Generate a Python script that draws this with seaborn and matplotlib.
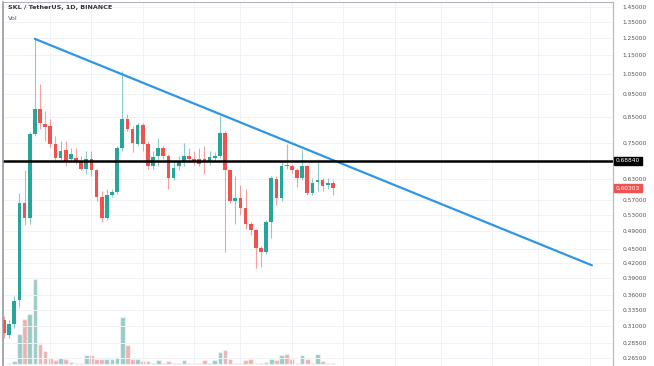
import numpy as np
import pandas as pd
import matplotlib
matplotlib.use("Agg")
import matplotlib.pyplot as plt
import seaborn as sns

# daily candles, SKL / USDT
opens = [0.318, 0.296, 0.312, 0.351, 0.560, 0.523, 0.785, 0.886, 0.824, 0.816,
         0.748, 0.699, 0.727, 0.696, 0.699, 0.683, 0.663, 0.693, 0.657, 0.577,
         0.521, 0.582, 0.591, 0.734, 0.844, 0.805, 0.748, 0.820, 0.748, 0.673,
         0.706, 0.731, 0.706, 0.632, 0.670, 0.683, 0.706, 0.696, 0.696, 0.696,
         0.683, 0.699, 0.706, 0.789, 0.657, 0.568, 0.574, 0.547, 0.506, 0.492,
         0.451, 0.442, 0.511, 0.629, 0.574, 0.676, 0.670, 0.660, 0.635, 0.670,
         0.588, 0.620, 0.626, 0.611, 0.617]
highs = [0.324, 0.318, 0.357, 0.588, 0.657, 0.790, 1.243, 1.000, 0.878, 0.844,
         0.778, 0.759, 0.759, 0.731, 0.731, 0.706, 0.723, 0.723, 0.663, 0.596,
         0.602, 0.602, 0.741, 1.065, 0.865, 0.816, 0.828, 0.828, 0.759, 0.723,
         0.770, 0.741, 0.713, 0.689, 0.706, 0.752, 0.731, 0.723, 0.731, 0.741,
         0.723, 0.717, 0.857, 0.797, 0.663, 0.641, 0.611, 0.602, 0.511, 0.496,
         0.455, 0.516, 0.641, 0.641, 0.689, 0.748, 0.679, 0.666, 0.727, 0.676,
         0.632, 0.696, 0.635, 0.632, 0.626]
lows = [0.292, 0.292, 0.306, 0.339, 0.504, 0.508, 0.778, 0.805, 0.759, 0.731,
        0.683, 0.689, 0.673, 0.683, 0.679, 0.657, 0.647, 0.641, 0.568, 0.511,
        0.516, 0.577, 0.585, 0.723, 0.797, 0.717, 0.738, 0.723, 0.663, 0.663,
        0.673, 0.696, 0.602, 0.626, 0.657, 0.673, 0.689, 0.676, 0.673, 0.647,
        0.676, 0.689, 0.699, 0.442, 0.560, 0.508, 0.529, 0.496, 0.480, 0.409,
        0.411, 0.438, 0.473, 0.555, 0.568, 0.663, 0.650, 0.605, 0.626, 0.582,
        0.582, 0.596, 0.596, 0.602, 0.582]
closes = [0.299, 0.312, 0.349, 0.560, 0.523, 0.785, 0.886, 0.828, 0.812, 0.748,
          0.699, 0.723, 0.683, 0.710, 0.689, 0.663, 0.693, 0.657, 0.577, 0.521,
          0.582, 0.591, 0.734, 0.844, 0.805, 0.752, 0.820, 0.748, 0.673, 0.703,
          0.731, 0.706, 0.632, 0.666, 0.683, 0.706, 0.696, 0.683, 0.679, 0.683,
          0.703, 0.706, 0.789, 0.657, 0.568, 0.574, 0.547, 0.506, 0.492, 0.451,
          0.442, 0.511, 0.635, 0.574, 0.673, 0.670, 0.657, 0.635, 0.670, 0.588,
          0.617, 0.626, 0.608, 0.617, 0.603]
volumes = [0.5, 1, 3, 32, 47, 52, 89, 21, 14, 6,
           4, 6, 5, 2, 1, 1, 9, 9, 5, 5,
           5, 5, 7, 49, 20, 5, 5, 3, 3, 1,
           4, 1, 3, 1, 1, 4, 1, 1, 1, 4,
           1, 4, 13, 15, 5, 1, 1, 4, 5, 1,
           1, 2, 5, 4, 9, 11, 5, 1, 9, 5,
           1, 11, 3, 1, 1]

# drawn levels
trend_x = [6, 114.4]
trend_y = [1.243, 0.415]
resistance = 0.6884
last_price = 0.60303

price_ticks = [1.45, 1.35, 1.25, 1.15, 1.05, 0.95, 0.85, 0.75, 0.63, 0.57,
               0.53, 0.49, 0.45, 0.42, 0.39, 0.36, 0.335, 0.31, 0.285, 0.265]
vgrid_days = [9, 17, 27, 37, 46, 56, 66, 76, 85, 95, 104, 114]

UP = "#26a69a"
DOWN = "#ef5350"
GRID = "#f0f2f7"

df = pd.DataFrame({"open": opens, "high": highs, "low": lows,
                   "close": closes, "vol": volumes})
df["day"] = np.arange(len(df))
df["dir"] = np.where(df["close"] >= df["open"], "up", "down")

sns.set_theme(style="white")
plt.rcParams["font.family"] = ["DejaVu Sans"]

fig = plt.figure(figsize=(6.54, 3.66), dpi=100)
ax = fig.add_axes([3 / 654, 0, 610 / 654, 364 / 366])
axv = ax.twinx()

# volume overlay at the bottom
sns.barplot(data=df, x="day", y="vol", hue="dir",
            palette={"up": UP, "down": DOWN}, native_scale=True,
            dodge=False, width=0.9, alpha=0.5, legend=False,
            errorbar=None, ax=axv)
axv.set_ylim(-2, 379)
axv.set_yticks([])
axv.set_ylabel("")
axv.set_xlabel("")
for s in axv.spines.values():
    s.set_visible(False)

ax.set_zorder(axv.get_zorder() + 1)
ax.patch.set_visible(False)

# candles
colors = [UP if d == "up" else DOWN for d in df["dir"]]
ax.vlines(df["day"], df["low"], df["high"], colors=colors, lw=0.8, alpha=0.55)
body_lo = np.minimum(df["open"], df["close"])
body_hi = np.maximum(df["open"], df["close"])
ax.bar(df["day"], body_hi - body_lo, bottom=body_lo, width=0.72,
       color=colors, linewidth=0)

# trendline + horizontal level
ax.plot(trend_x, trend_y, color="#2f95e6", lw=1.6, solid_capstyle="round")
ax.axhline(resistance, color="black", lw=1.8)

ax.set_yscale("log")
ax.set_ylim(0.2548, 1.486)
ax.set_xlim(-0.2, 118.5)
axv.set_xlim(-0.2, 118.5)

ax.yaxis.tick_right()
ax.set_yticks(price_ticks)
ax.set_yticklabels([f"{t:.5f}" for t in price_ticks])
ax.yaxis.set_minor_locator(matplotlib.ticker.NullLocator())
ax.tick_params(axis="y", length=0, labelsize=4.2, labelcolor="#555555", pad=7)
ax.set_xticks(vgrid_days)
ax.tick_params(axis="x", length=0, labelbottom=False)
ax.grid(True, color=GRID, lw=0.7)
ax.set_axisbelow(True)

for side in ["left", "top", "right"]:
    ax.spines[side].set_visible(True)
    ax.spines[side].set_color("#b2b5be")
    ax.spines[side].set_linewidth(0.8)
ax.spines["left"].set_color("#9598a1")
ax.spines["left"].set_linewidth(1.2)
ax.spines["bottom"].set_visible(False)

# price labels on the scale
ax.annotate(f"{resistance:.5f}", xy=(1.0, resistance), xycoords=("axes fraction", "data"),
            xytext=(2, 0), textcoords="offset points", va="center", ha="left",
            fontsize=4.2, color="white",
            bbox=dict(boxstyle="square,pad=0.3", fc="black", ec="black"))
ax.annotate(f"{last_price:.5f}", xy=(1.0, last_price), xycoords=("axes fraction", "data"),
            xytext=(2, 0), textcoords="offset points", va="center", ha="left",
            fontsize=4.2, color="white",
            bbox=dict(boxstyle="square,pad=0.3", fc=DOWN, ec=DOWN))

fig.text(8 / 654, 1 - 8 / 366, "SKL / TetherUS, 1D, BINANCE", fontsize=4.6,
         color="#333333", va="center", ha="left", fontweight="bold")
fig.text(8 / 654, 1 - 19 / 366, "Vol", fontsize=4.6, color="#555555",
         va="center", ha="left")

fig.savefig("out.png", dpi=100, facecolor="white")
